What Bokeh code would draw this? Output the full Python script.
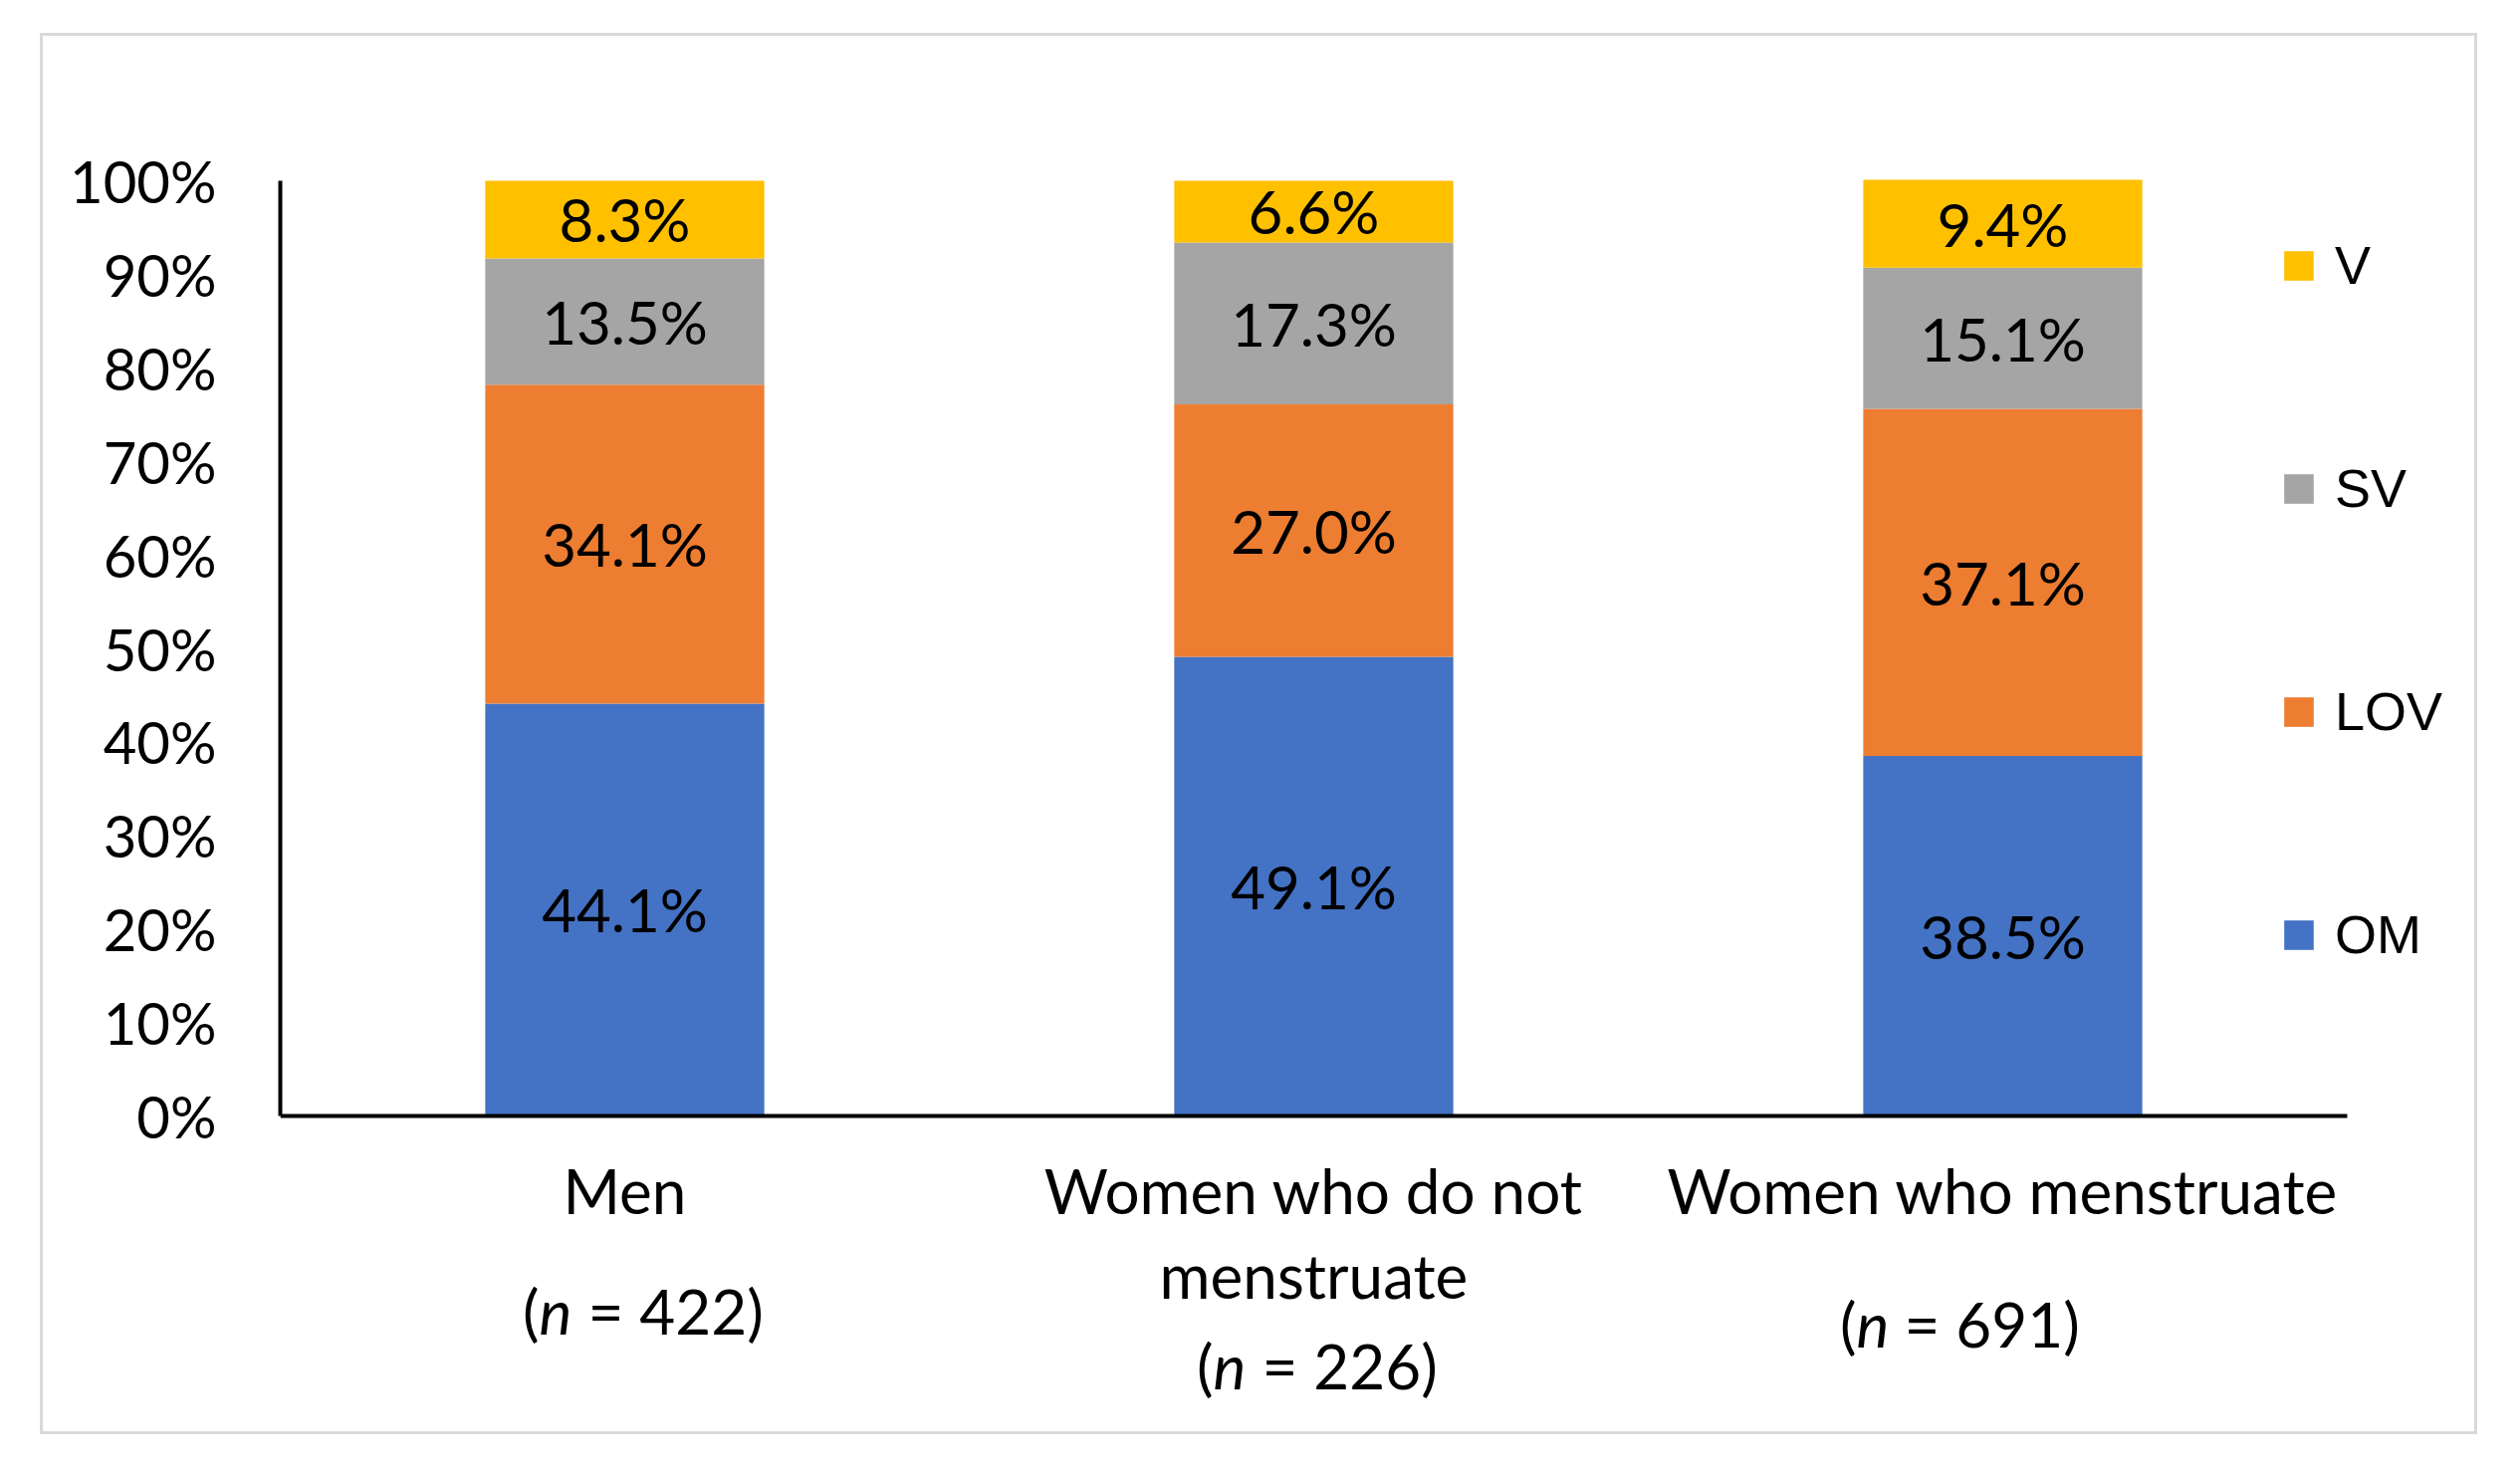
from bokeh.plotting import figure
from bokeh.models import (ColumnDataSource, Range1d, FixedTicker, LinearAxis,
                          PrintfTickFormatter, Legend, LegendItem)
from bokeh.core.properties import value
from bokeh.embed import file_html
from bokeh.resources import INLINE

# ---- data ----
groups = ["Men", "Women who do not\nmenstruate", "Women who menstruate"]
n_values = [422, 226, 691]
series = ["OM", "LOV", "SV", "V"]
om = [44.1, 49.1, 38.5]
lov = [34.1, 27.0, 37.1]
sv = [13.5, 17.3, 15.1]
v = [8.3, 6.6, 9.4]
y_ticks = [0, 10, 20, 30, 40, 50, 60, 70, 80, 90, 100]

# ---- style / layout ----
colors = {"OM": "#4472C4", "LOV": "#ED7D31", "SV": "#A5A5A5", "V": "#FFC000"}
FONT = "Lato"
W, H = 2448, 1407            # canvas inside the grey border
LEFT = 238                   # y-axis line position in canvas px
CAT_PX = 692                 # width of one category in px
ZERO_PX, HUNDRED_PX = 1084, 145   # canvas y of 0% and 100%
px_per_pct = (ZERO_PX - HUNDRED_PX) / 100.0
x_end = (W - LEFT) / CAT_PX
y_start = -(H - ZERO_PX) / px_per_pct
y_end = 100 + HUNDRED_PX / px_per_pct

p = figure(x_range=Range1d(0, x_end), y_range=Range1d(y_start, y_end),
           width=W, height=H, output_backend="svg", toolbar_location=None,
           x_axis_location=None,
           min_border_left=LEFT, min_border_right=0, min_border_top=0,
           min_border_bottom=0)
p.styles = {"margin-left": "40px", "margin-top": "33px",
            "border": "3px solid #D9D9D9"}
p.outline_line_color = None
p.xgrid.visible = False
p.ygrid.visible = False
p.background_fill_color = "white"
p.border_fill_color = "white"

xpos = [i + 0.5 for i in range(len(groups))]
src = ColumnDataSource(dict(x=xpos, OM=om, LOV=lov, SV=sv, V=v))
rs = p.vbar_stack(series, x="x", width=0.405, source=src,
                  fill_color=[colors[s] for s in series], line_color=None)

# data labels inside the segments
vals = {"OM": om, "LOV": lov, "SV": sv, "V": v}
lx, ly, lt = [], [], []
for gi in range(len(groups)):
    base = 0.0
    for s in series:
        val = vals[s][gi]
        lx.append(xpos[gi])
        ly.append(base + val / 2)
        lt.append(f"{val:.1f}%")
        base += val
p.text(x="x", y="y", text="t", source=ColumnDataSource(dict(x=lx, y=ly, t=lt)),
       text_font=value(FONT), text_font_size="60px", text_align="center",
       text_baseline="middle", text_color="black")

# y axis (0% .. 100%)
ya = p.yaxis[0]
ya.bounds = (0, 100)
ya.ticker = FixedTicker(ticks=y_ticks)
ya.formatter = PrintfTickFormatter(format="%d%%")
ya.major_label_text_font = FONT
ya.major_label_text_font_size = "58px"
ya.major_label_text_color = "black"
ya.axis_line_width = 4
ya.axis_line_color = "black"
ya.major_tick_line_color = None
ya.minor_tick_line_color = None
ya.major_tick_out = 0
ya.minor_tick_out = 0
ya.major_label_standoff = 64

# x axis at y = 0 with category labels
xa = LinearAxis(fixed_location=0, bounds=(0, len(groups)),
                ticker=FixedTicker(ticks=xpos),
                major_label_overrides={xpos[i]: groups[i] for i in range(len(groups))})
xa.major_label_text_font = FONT
xa.major_label_text_font_size = "62px"
xa.major_label_text_color = "black"
xa.major_label_text_line_height = 1.16
xa.axis_line_width = 4
xa.axis_line_color = "black"
xa.major_tick_line_color = None
xa.minor_tick_line_color = None
xa.major_tick_out = 0
xa.minor_tick_out = 0
xa.major_label_standoff = 37
p.add_layout(xa, "below")

# "(n = ...)" lines with italic n, placed below each category
n_left = [-86, -101, -147]
eq_left = [-37, -52, -99]
n_down = [195, 250, 208]
nsrc = ColumnDataSource(dict(
    x=xpos, y=[0] * len(groups), xo=n_left, xe=eq_left, yo=n_down,
    open=["("] * len(groups), n=["n"] * len(groups),
    rest=[f"= {n})" for n in n_values]))
tcommon = dict(source=nsrc, text_font=value(FONT), text_font_size="62px",
               text_color="black", text_baseline="alphabetic")
p.text(x="x", y="y", text="open", x_offset="xo", y_offset="yo",
       text_align="right", **tcommon)
p.text(x="x", y="y", text="n", x_offset="xo", y_offset="yo",
       text_align="left", text_font_style="italic", **tcommon)
p.text(x="x", y="y", text="rest", x_offset="xe", y_offset="yo",
       text_align="left", **tcommon)

# legend
order = ["V", "SV", "LOV", "OM"]
legend = Legend(items=[LegendItem(label=s, renderers=[rs[series.index(s)]]) for s in order],
                location=(2009, 474), orientation="vertical",
                glyph_width=37, glyph_height=37, label_standoff=18,
                label_text_font="Liberation Sans", label_text_font_size="54px",
                label_text_color="black", label_height=37,
                spacing=162, padding=0, margin=0,
                border_line_color=None, background_fill_alpha=0)
p.add_layout(legend, "center")

open("out.html", "w").write(file_html(p, INLINE))
